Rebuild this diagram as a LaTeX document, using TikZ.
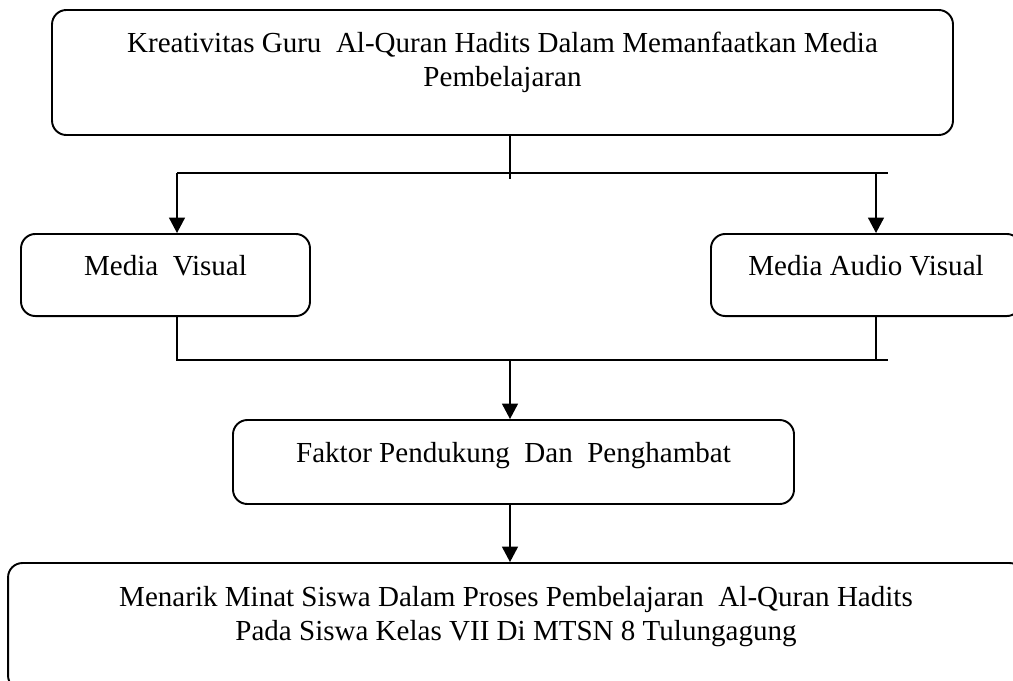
\documentclass[tikz,border=0pt]{standalone}
\usepackage{fontspec}
\setmainfont{Liberation Serif}
\usepackage{tikz}
\usetikzlibrary{positioning, arrows.meta}

\begin{document}
\begin{tikzpicture}[
  x=0.41667pt, y=-0.41667pt,
  kotak/.style={draw, rounded corners=6pt, line width=0.8pt, align=center,
                inner ysep=0pt, font=\fontsize{12.1pt}{13.8pt}\selectfont},
  garis/.style={line width=0.7pt},
  panah/.style={-{Triangle[length=6.4pt,width=6.6pt]}, line width=0.7pt}
]
  \useasboundingbox (0,0) rectangle (1013,680);

  \node[kotak, minimum width=375.4pt, text height=31.7pt, text depth=20.4pt]
    (kreatif) at (502.5,72.5)
    {Kreativitas Guru\ \ Al-Quran Hadits Dalam Memanfaatkan Media\\Pembelajaran};
  \node[kotak, minimum width=120.4pt, text height=17.1pt, text depth=17.1pt]
    (visual) at (165.5,275) {Media\ \ Visual};
  \node[kotak, minimum width=129.2pt, text height=17.1pt, text depth=17.1pt]
    (audio) at (866,275) {Media Audio Visual};
  \node[kotak, minimum width=233.75pt, text height=17.5pt, text depth=17.5pt]
    (faktor) at (513.5,462) {Faktor Pendukung\ \ Dan\ \ Penghambat};
  \node[kotak, minimum width=423.3pt, text height=32.1pt, text depth=20.8pt]
    (minat) at (516,626.5)
    {Menarik Minat Siswa Dalam Proses Pembelajaran\ \ Al-Quran Hadits\\Pada Siswa Kelas VII Di MTSN 8 Tulungagung};

  % percabangan atas
  \coordinate (atasTengah) at (510,179);
  \coordinate (atasKiri)   at (177,173);
  \coordinate (atasKanan)  at (888,173);
  \coordinate (atasPanah)  at (876,173);
  \draw[line width=0.5pt] (kreatif.south -| atasTengah) -- (atasTengah);
  \draw[line width=1pt] (atasKiri) -- (atasKanan);
  \draw[panah] (atasKiri) -- (atasKiri |- visual.north);
  \draw[panah] (atasPanah) -- (atasPanah |- audio.north);

  % percabangan bawah
  \coordinate (bawahKiri)   at (177,360);
  \coordinate (bawahKanan)  at (888,360);
  \coordinate (bawahPanah)  at (876,360);
  \coordinate (bawahTengah) at (510,360);
  \draw[garis] (bawahKiri |- visual.south) -- (bawahKiri) -- (bawahKanan);
  \draw[garis] (bawahPanah |- audio.south) -- (bawahPanah);
  \draw[panah] (bawahTengah) -- (bawahTengah |- faktor.north);
  \draw[panah] (faktor.south -| bawahTengah) -- (bawahTengah |- minat.north);
\end{tikzpicture}
\end{document}
